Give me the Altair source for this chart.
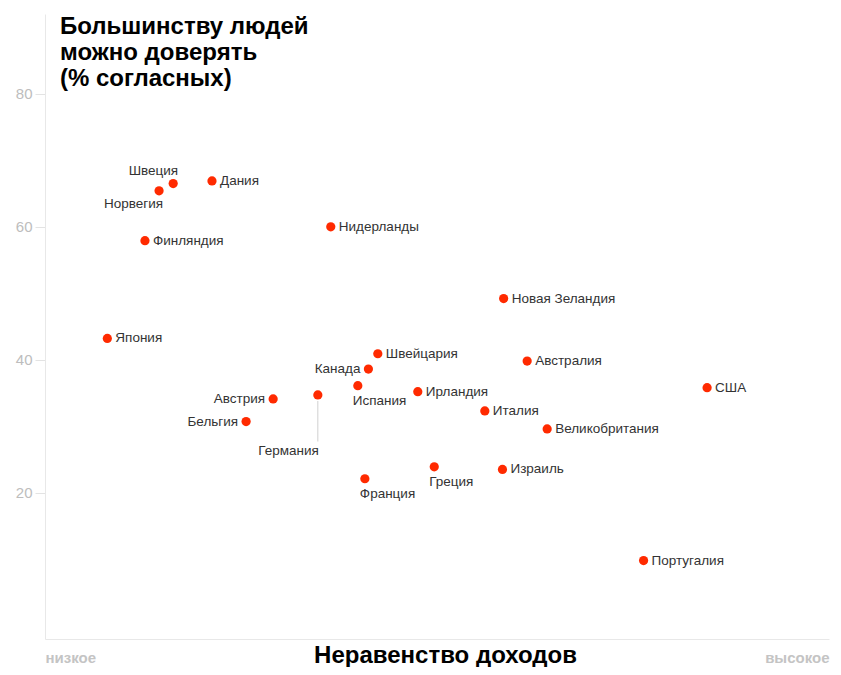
import altair as alt
import pandas as pd

countries = ["Япония", "Норвегия", "Швеция", "Дания", "Финляндия", "Нидерланды",
             "Новая Зеландия", "Швейцария", "Канада", "Испания", "Ирландия",
             "Австралия", "США", "Италия", "Великобритания", "Австрия", "Германия",
             "Бельгия", "Франция", "Греция", "Израиль", "Португалия"]
inequality = [3.40, 3.84, 3.96, 4.29, 3.72, 5.30, 6.77, 5.70, 5.62, 5.53, 6.04,
              6.97, 8.50, 6.61, 7.14, 4.81, 5.19, 4.58, 5.59, 6.18, 6.76, 7.96]
trust = [43.2, 65.4, 66.5, 66.9, 57.9, 60.0, 49.2, 40.9, 38.6, 36.1, 35.2,
         39.8, 35.8, 32.3, 29.6, 34.1, 34.7, 30.7, 22.1, 23.9, 23.5, 9.8]

y_ticks = [20, 40, 60, 80]
title_lines = ["Большинству людей", "можно доверять", "(% согласных)"]
x_title = "Неравенство доходов"
x_low, x_high = "низкое", "высокое"

left_labels = ["Канада", "Австрия", "Бельгия"]
above_left = ["Швеция"]
below_left = ["Норвегия"]
below_labels = ["Испания", "Франция", "Греция"]
leader_labels = ["Германия"]

df = pd.DataFrame({"country": countries, "x": inequality, "y": trust})

FONT = "Liberation Sans"
RED = "#ff2a00"
W, H = 784, 625
XMIN = 2.87
XMAX = XMIN + W / 117.6

x_enc = alt.X("x:Q", scale=alt.Scale(domain=[XMIN, XMAX], nice=False, zero=False),
              axis=alt.Axis(values=[XMIN, XMAX],
                            labelExpr=f"datum.value < 5 ? '{x_low}' : '{x_high}'",
                            labelAlign=alt.ExprRef(expr="datum.value < 5 ? 'left' : 'right'"),
                            labelColor="#c4c4c4", labelFontWeight="bold", labelFontSize=15,
                            labelFont=FONT, labelPadding=11, ticks=False, grid=False,
                            domainColor="#e8e8e8", title=x_title, titleFont=FONT,
                            titleFontSize=24, titleFontWeight="bold", titleColor="#000",
                            titleBaseline="alphabetic", titleY=23, titleX=400))
y_enc = alt.Y("y:Q", scale=alt.Scale(domain=[-2, 92], nice=False, zero=False),
              axis=alt.Axis(values=y_ticks, labelColor="#bdbdbd", labelFont=FONT,
                            labelFontSize=15, tickColor="#e3e3e3",
                            tickSize=10, labelPadding=3, domainColor="#e8e8e8",
                            grid=False, title=None))

base = alt.Chart(df).encode(x=x_enc, y=y_enc)

leader = base.transform_filter(
    alt.FieldOneOfPredicate(field="country", oneOf=leader_labels)
).transform_calculate(y_end="datum.y - 7").mark_rule(
    color="#d0d0d0", strokeWidth=1, yOffset=6).encode(y2="y_end:Q")

points = base.mark_circle(size=85, color=RED, opacity=1)

txt = dict(font=FONT, fontSize=13.5, color="#333")
special = left_labels + above_left + below_left + below_labels + leader_labels

right_t = base.transform_filter(
    ~alt.FieldOneOfPredicate(field="country", oneOf=special)
).mark_text(align="left", baseline="middle", dx=8, **txt).encode(text="country")
left_t = base.transform_filter(
    alt.FieldOneOfPredicate(field="country", oneOf=left_labels)
).mark_text(align="right", baseline="middle", dx=-8, **txt).encode(text="country")
abl_t = base.transform_filter(
    alt.FieldOneOfPredicate(field="country", oneOf=above_left)
).mark_text(align="right", baseline="middle", dx=5, dy=-13, **txt).encode(text="country")
bel_t = base.transform_filter(
    alt.FieldOneOfPredicate(field="country", oneOf=below_left)
).mark_text(align="right", baseline="middle", dx=4, dy=13, **txt).encode(text="country")
below_t = base.transform_filter(
    alt.FieldOneOfPredicate(field="country", oneOf=below_labels)
).mark_text(align="left", baseline="middle", dx=-5, dy=15, **txt).encode(text="country")
lead_t = base.transform_filter(
    alt.FieldOneOfPredicate(field="country", oneOf=leader_labels)
).mark_text(align="right", baseline="middle", dx=1, dy=56, **txt).encode(text="country")

title = alt.Chart(pd.DataFrame({"k": [0]})).mark_text(
    text=title_lines, align="left", baseline="alphabetic", lineHeight=26,
    font=FONT, fontSize=24, fontWeight="bold", color="#000"
).encode(x=alt.value(15), y=alt.value(20))

chart = alt.layer(leader, points, right_t, left_t, abl_t, bel_t, below_t, lead_t, title).properties(
    width=W, height=H, autosize=alt.AutoSizeParams(type="none"), background="white",
    padding={"left": 37, "top": 6, "right": 2, "bottom": 28}
).configure_view(stroke="transparent", strokeWidth=0)

chart.save("out.html", embed_options={"renderer": "svg", "actions": False})
